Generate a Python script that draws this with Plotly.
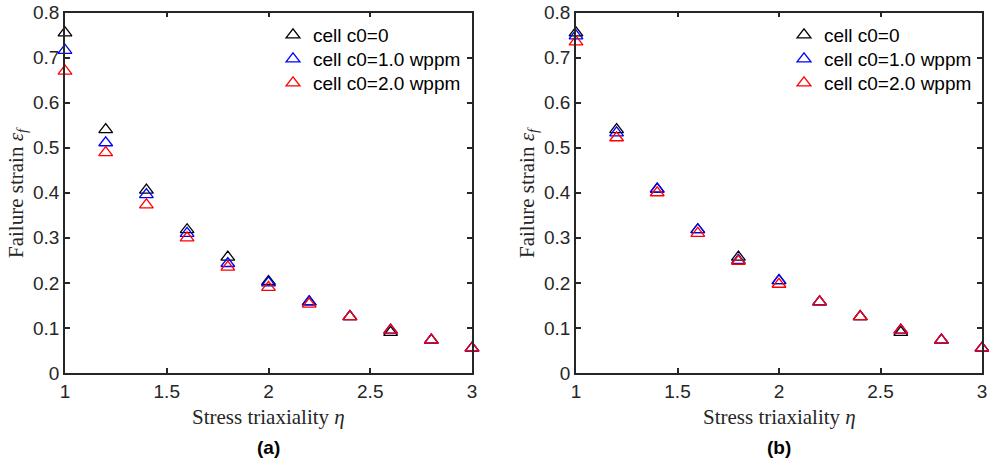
import plotly.graph_objects as go

eta = [1.0, 1.2, 1.4, 1.6, 1.8, 2.0, 2.2, 2.4, 2.6, 2.8, 3.0]

# Panel (a)
a_c0 = [0.755, 0.540, 0.406, 0.318, 0.257, 0.203, 0.158, 0.125, 0.090, 0.073, 0.055]
a_c1 = [0.716, 0.511, 0.396, 0.310, 0.243, 0.200, 0.158, 0.125, 0.095, 0.073, 0.055]
a_c2 = [0.670, 0.489, 0.373, 0.300, 0.235, 0.190, 0.153, 0.125, 0.095, 0.073, 0.055]

# Panel (b)
b_c0 = [0.755, 0.540, 0.408, 0.318, 0.257, 0.205, 0.158, 0.125, 0.090, 0.073, 0.055]
b_c1 = [0.748, 0.533, 0.408, 0.318, 0.250, 0.205, 0.158, 0.125, 0.095, 0.073, 0.055]
b_c2 = [0.735, 0.522, 0.400, 0.310, 0.248, 0.197, 0.158, 0.125, 0.095, 0.073, 0.055]

names = ["cell c0=0", "cell c0=1.0 wppm", "cell c0=2.0 wppm"]
colors = ["#000000", "#0000ff", "#ff0000"]

x_ticks = [1, 1.5, 2, 2.5, 3]
x_ticktext = ["1", "1.5", "2", "2.5", "3"]
y_ticks = [0, 0.1, 0.2, 0.3, 0.4, 0.5, 0.6, 0.7, 0.8]
y_ticktext = ["0", "0.1", "0.2", "0.3", "0.4", "0.5", "0.6", "0.7", "0.8"]

x_title = "Stress triaxiality <i>η</i>"
y_title = "Failure strain <i>ε</i><sub><i>f</i></sub>"
panel_labels = ["(a)", "(b)"]

W, H = 989, 463
axis_col = "#262626"
sans = "Liberation Sans, Arial, sans-serif"
serif = "Liberation Serif, Times New Roman, serif"
tick_font = dict(family=sans, size=19, color=axis_col)
title_font = dict(family=serif, size=21, color=axis_col)
legend_font = dict(family=sans, size=19, color="#000")

left = [(65, 472), (576, 982)]
ydom = [1 - 373 / H, 1 - 12.5 / H]
legend_rows = [35, 59, 83]

fig = go.Figure()
layout_legends = {}
leg_idx = 0
for p, (series, xa, ya) in enumerate([((a_c0, a_c1, a_c2), "x", "y"),
                                      ((b_c0, b_c1, b_c2), "x2", "y2")]):
    for k, (vals, nm, col) in enumerate(zip(series, names, colors)):
        leg_idx += 1
        leg_name = "legend" if leg_idx == 1 else "legend%d" % leg_idx
        fig.add_trace(go.Scatter(
            x=eta, y=vals, mode="markers", name=nm,
            xaxis=xa, yaxis=ya, legend=leg_name,
            marker=dict(symbol="triangle-up-open", size=12, color=col,
                        line=dict(width=1.3, color=col)),
            cliponaxis=False,
        ))
        layout_legends[leg_name] = dict(
            x=(left[p][0] + 208) / W, y=1 - legend_rows[k] / H,
            xanchor="left", yanchor="middle", bgcolor="rgba(0,0,0,0)",
            font=legend_font, itemwidth=30)

def xaxis(domain, anchor):
    return dict(domain=domain, anchor=anchor, range=[1, 3], tickvals=x_ticks,
                ticktext=x_ticktext, ticks="inside", ticklen=5, tickwidth=1.5,
                tickcolor=axis_col, showline=True, linecolor=axis_col, linewidth=1.8,
                mirror="ticks", showgrid=False, zeroline=False, tickfont=tick_font,
                automargin=False)

def yaxis(domain, anchor):
    return dict(domain=domain, anchor=anchor, range=[0, 0.8], tickvals=y_ticks,
                ticktext=y_ticktext, ticks="inside", ticklen=5, tickwidth=1.5,
                tickcolor=axis_col, showline=True, linecolor=axis_col, linewidth=1.8,
                mirror="ticks", showgrid=False, zeroline=False, tickfont=tick_font,
                automargin=False)

annotations = []
for (x0, x1), lab in zip(left, panel_labels):
    cx = (x0 + x1) / 2
    annotations.append(dict(text=x_title, x=cx / W, y=1 - 417 / H, xref="paper", yref="paper",
                            xanchor="center", yanchor="middle", showarrow=False, font=title_font))
    annotations.append(dict(text=y_title, x=(x0 - 48) / W, y=1 - 193 / H, xref="paper", yref="paper",
                            xanchor="center", yanchor="middle", textangle=-90, showarrow=False,
                            font=title_font))
    annotations.append(dict(text="<b>" + lab + "</b>", x=cx / W, y=1 - 447 / H,
                            xref="paper", yref="paper", xanchor="center", yanchor="middle",
                            showarrow=False, font=dict(family=sans, size=19, color="#000")))

fig.update_layout(
    width=W, height=H,
    margin=dict(l=0, r=0, t=0, b=0),
    paper_bgcolor="white", plot_bgcolor="white",
    xaxis=xaxis([left[0][0] / W, left[0][1] / W], "y"),
    yaxis=yaxis(ydom, "x"),
    xaxis2=xaxis([left[1][0] / W, left[1][1] / W], "y2"),
    yaxis2=yaxis(ydom, "x2"),
    showlegend=True,
    annotations=annotations,
    **layout_legends,
)

fig.write_html("out.html", config={"displayModeBar": False},
               post_script="document.body.style.margin='0';")
